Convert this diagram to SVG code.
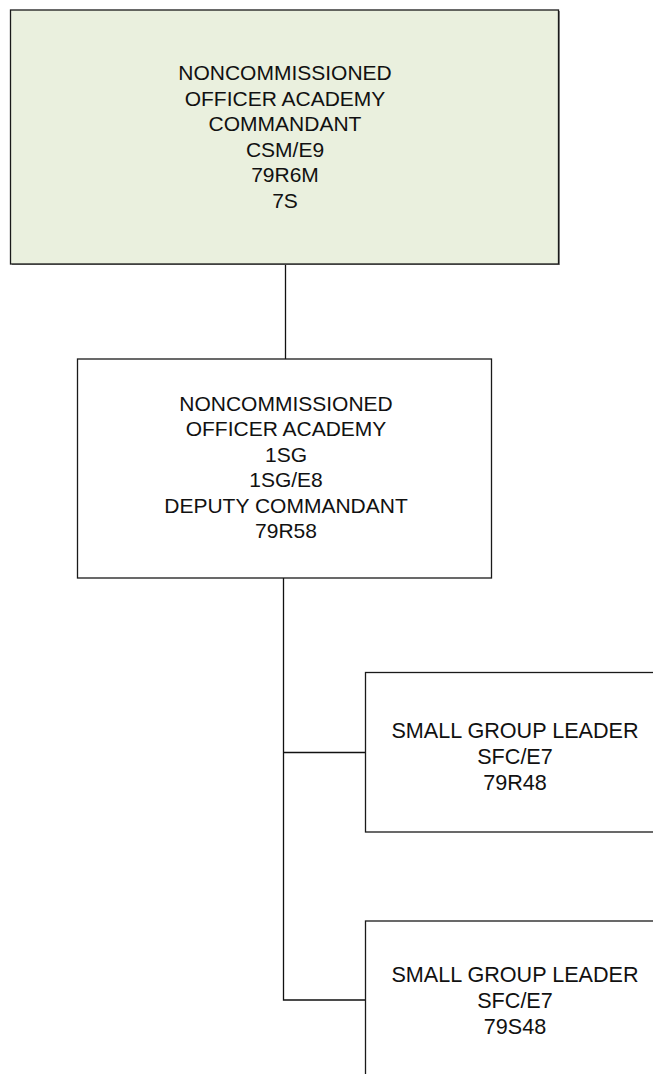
<svg xmlns="http://www.w3.org/2000/svg" width="653" height="1074" viewBox="0 0 653 1074">
<style>
.box{stroke:#1a1a1a;stroke-width:1.3;fill:#ffffff}
.green{fill:#eaf0de}
.conn{stroke:#111111;stroke-width:1.3;fill:none}
text{font-family:"Liberation Sans",Arial,sans-serif;font-size:21px;fill:#111111;text-anchor:middle}
.sm{font-size:21.6px}
</style>
<rect width="653" height="1074" fill="#ffffff"/>
<g id="connectors">
<line class="conn" x1="285.5" y1="264" x2="285.5" y2="359"/>
<polyline class="conn" points="283.5,575 283.5,1000 365.5,1000"/>
<line class="conn" x1="283.5" y1="752.5" x2="365.5" y2="752.5"/>
</g>
<g id="n1">
<rect x="12" y="11" width="548" height="254" fill="#8a8a8a"/>
<rect class="box green" x="10.5" y="10" width="548" height="254"/>
<text x="285" y="80">NONCOMMISSIONED</text>
<text x="285" y="105.5">OFFICER ACADEMY</text>
<text x="285" y="131">COMMANDANT</text>
<text x="285" y="156.5">CSM/E9</text>
<text x="285" y="182">79R6M</text>
<text x="285" y="207.5">7S</text>
</g>
<g id="n2">
<rect class="box" x="77.5" y="359" width="414" height="219"/>
<text x="286" y="411">NONCOMMISSIONED</text>
<text x="286" y="436">OFFICER ACADEMY</text>
<text x="286" y="461.5">1SG</text>
<text x="286" y="487">1SG/E8</text>
<text x="286" y="512.5">DEPUTY COMMANDANT</text>
<text x="286" y="538">79R58</text>
</g>
<g id="n3">
<rect class="box" x="365.5" y="672.5" width="300" height="159.5"/>
<text class="sm" x="515" y="737.5">SMALL GROUP LEADER</text>
<text class="sm" x="515" y="763.5">SFC/E7</text>
<text class="sm" x="515" y="790">79R48</text>
</g>
<g id="n4">
<rect class="box" x="365.5" y="921" width="300" height="170"/>
<text class="sm" x="515" y="982">SMALL GROUP LEADER</text>
<text class="sm" x="515" y="1008">SFC/E7</text>
<text class="sm" x="515" y="1033.5">79S48</text>
</g>
</svg>
